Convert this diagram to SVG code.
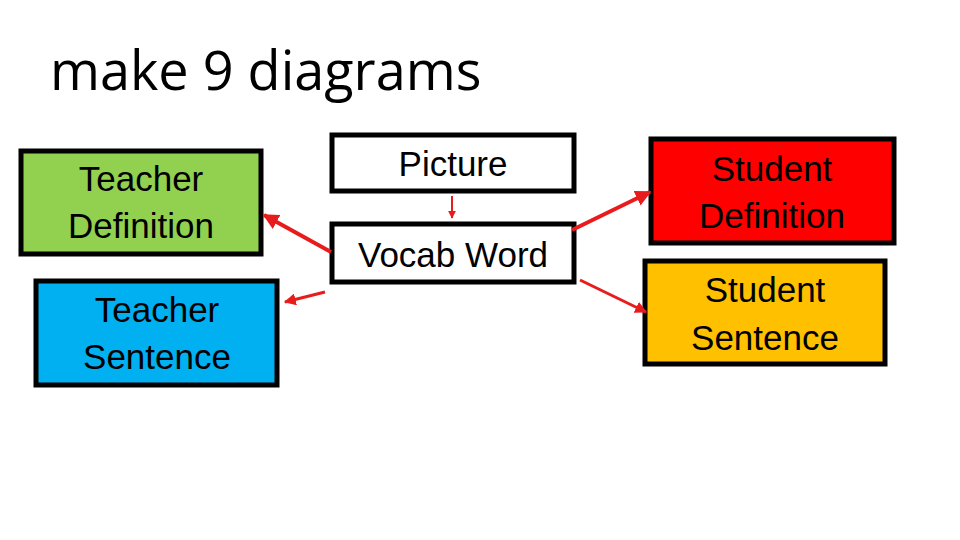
<svg xmlns="http://www.w3.org/2000/svg" width="960" height="540" viewBox="0 0 960 540">
<style>
.b{stroke:#000;stroke-width:5}
.t{font-family:"Liberation Sans",Arial,sans-serif;font-size:35px;text-anchor:middle;fill:#000}
.c{stroke:#e81c1c;fill:none}
</style>
<defs><marker id="a" viewBox="0 0 10 10" refX="9" refY="5" markerWidth="4" markerHeight="4" orient="auto"><path d="M0,0L10,5L0,10z" fill="#e81c1c"/></marker></defs>
<rect width="960" height="540" fill="#fff"/>
<text x="50" y="90" style="font-family:'Open Sans','Noto Sans',sans-serif;font-size:54px;fill:#000">make 9 diagrams</text>
<g id="teacherDef"><rect class="b" x="21" y="151" width="240" height="103" fill="#92d050"/><text class="t" x="141" y="191">Teacher</text><text class="t" x="141" y="238">Definition</text></g>
<g id="teacherSent"><rect class="b" x="36" y="281" width="241" height="104" fill="#00b0f0"/><text class="t" x="157" y="322">Teacher</text><text class="t" x="157" y="369">Sentence</text></g>
<g id="picture"><rect class="b" x="332" y="135" width="242" height="56" fill="#fff"/><text class="t" x="453" y="176">Picture</text></g>
<g id="vocab"><rect class="b" x="332" y="224" width="242" height="58" fill="#fff"/><text class="t" x="453" y="267">Vocab Word</text></g>
<g id="studentDef"><rect class="b" x="651" y="139" width="243" height="104" fill="#ff0000"/><text class="t" x="772" y="181">Student</text><text class="t" x="772" y="228">Definition</text></g>
<g id="studentSent"><rect class="b" x="645" y="261" width="240" height="103" fill="#ffc000"/><text class="t" x="765" y="302">Student</text><text class="t" x="765" y="350">Sentence</text></g>
<g id="connectors">
<line class="c" stroke-width="2" x1="452" y1="196" x2="452" y2="218" marker-end="url(#a)"/>
<line class="c" stroke-width="4" x1="331" y1="252" x2="264" y2="215" marker-end="url(#a)"/>
<line class="c" stroke-width="3" x1="325" y1="292" x2="285" y2="302" marker-end="url(#a)"/>
<line class="c" stroke-width="4" x1="572" y1="230" x2="650" y2="192" marker-end="url(#a)"/>
<line class="c" stroke-width="3" x1="580" y1="280" x2="646" y2="312" marker-end="url(#a)"/>
</g>
</svg>
